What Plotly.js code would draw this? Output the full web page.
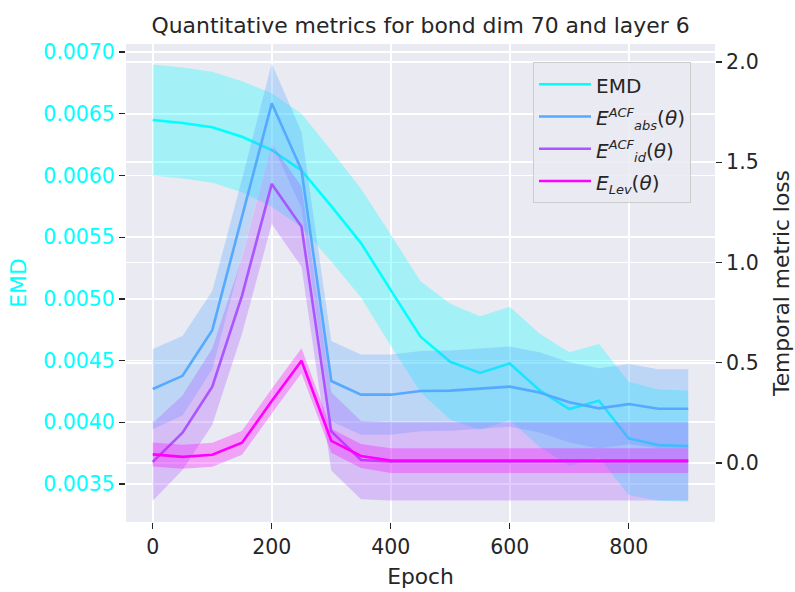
<!DOCTYPE html>
<html>
<head>
<meta charset="utf-8">
<script src="https://cdn.plot.ly/plotly-3.0.1.min.js"></script>
<style>html,body{margin:0;padding:0;background:#fff;}#chart{width:795px;height:592px;}</style>
</head>
<body>
<div id="chart"></div>
<script>
// ---- data ----
const epochs = [0,50,100,150,200,250,300,350,400,450,500,550,600,650,700,750,800,850,900];

const emdMean = [0.006449,0.006425,0.006390,0.006314,0.006206,0.006040,0.005752,0.005452,0.005071,0.004693,0.004490,0.004400,0.004477,0.004260,0.004107,0.004174,0.003869,0.003815,0.003807];
const emdStd  = [0.00045,0.00045,0.00045,0.00045,0.00046,0.00046,0.00045,0.00044,0.00045,0.00045,0.00047,0.00046,0.00046,0.00046,0.00046,0.00046,0.00046,0.00045,0.00045];

const absMean = [0.369,0.435,0.663,1.222,1.794,1.461,0.409,0.341,0.341,0.359,0.361,0.371,0.381,0.352,0.303,0.273,0.294,0.271,0.271];
const absStd  = [0.200,0.198,0.195,0.194,0.200,0.190,0.200,0.200,0.200,0.200,0.200,0.200,0.200,0.200,0.200,0.200,0.200,0.197,0.197];

const idMean  = [0.006,0.151,0.381,0.835,1.392,1.179,0.158,0.015,0.008,0.008,0.008,0.008,0.010,0.008,0.008,0.008,0.008,0.008,0.008];
const idStd   = [0.194,0.186,0.190,0.190,0.200,0.200,0.195,0.195,0.195,0.195,0.195,0.195,0.195,0.195,0.195,0.195,0.195,0.195,0.195];

const levMean = [0.043,0.031,0.041,0.101,0.309,0.510,0.111,0.035,0.012,0.012,0.012,0.012,0.015,0.013,0.012,0.012,0.012,0.012,0.012];
const levStd  = [0.060,0.060,0.060,0.060,0.062,0.062,0.060,0.060,0.062,0.062,0.062,0.062,0.062,0.062,0.062,0.062,0.062,0.062,0.062];

const S = t => '<span style="font-size:13px"><i>' + t + '</i></span>';
const seriesNames = ['EMD',
  '<i>E</i><sup>' + S('ACF') + '</sup><sub>' + S('abs') + '</sub>(<i>θ</i>)',
  '<i>E</i><sup>' + S('ACF') + '</sup><sub>' + S('id') + '</sub>(<i>θ</i>)',
  '<i>E</i><sub>' + S('Lev') + '</sub>(<i>θ</i>)'];
const emdTicks = [0.0035,0.0040,0.0045,0.0050,0.0055,0.0060,0.0065,0.0070];
const lossTicks = [0,0.5,1.0,1.5,2.0];
const xTicks = [0,200,400,600,800];

// ---- styling ----
const colors = ['#00ffff','#55aaff','#aa55ff','#ff00ff'];
const fills  = ['rgba(0,255,255,0.3)','rgba(85,170,255,0.3)','rgba(170,85,255,0.3)','rgba(255,0,255,0.3)'];
const txt = '#262626';
const FONT = 'DejaVu Sans, sans-serif';
const TICK = 20.5, LAB = 21.8;

function band(mean, std, idx, yaxis) {
  const up = mean.map((m,i)=>m+std[i]);
  const lo = mean.map((m,i)=>m-std[i]);
  return [
    {x: epochs, y: up, yaxis: yaxis, mode:'lines', line:{width:0,color:colors[idx]}, showlegend:false, hoverinfo:'skip'},
    {x: epochs, y: lo, yaxis: yaxis, mode:'lines', line:{width:0,color:colors[idx]}, fill:'tonexty', fillcolor: fills[idx], showlegend:false, hoverinfo:'skip'},
    {x: epochs, y: mean, yaxis: yaxis, mode:'lines',
     name: '<span style="font-size:20px">' + seriesNames[idx] + '</span>',
     line:{width:2.6,color:colors[idx]}}
  ];
}

const data = [].concat(
  band(emdMean, emdStd, 0, 'y'),
  band(absMean, absStd, 1, 'y2'),
  band(idMean, idStd, 2, 'y2'),
  band(levMean, levStd, 3, 'y2')
);

const layout = {
  width: 795, height: 592,
  margin: {l:126, r:80, t:44, b:70, pad:0},
  paper_bgcolor: '#ffffff',
  plot_bgcolor: '#eaeaf2',
  font: {family: FONT, size: TICK, color: txt},
  title: {text: 'Quantitative metrics for bond dim 70 and layer 6', font:{size:21.9, color:txt, family:FONT}, x: 0.529, xanchor:'center', y: 0.958, yanchor:'middle'},
  xaxis: {
    range: [-45, 945], tickvals: xTicks, ticktext: xTicks.map(String),
    showgrid: true, gridcolor: '#ffffff', gridwidth: 1.6, zeroline: false, showline: false,
    ticks: 'outside', ticklen: 6, tickwidth: 1.3, tickcolor: txt,
    tickfont: {size: TICK, color: txt},
    title: {text: 'Epoch', font: {size: LAB, color: txt}, standoff: 11}
  },
  yaxis: {
    range: [0.003192, 0.007065], tickvals: emdTicks, ticktext: emdTicks.map(v=>v.toFixed(4)),
    showgrid: true, gridcolor: '#ffffff', gridwidth: 1.6, zeroline: false, showline: false,
    ticks: 'outside', ticklen: 6, tickwidth: 1.3, tickcolor: txt,
    tickfont: {size: TICK, color: '#00ffff'},
    title: {text: 'EMD', font: {size: LAB, color: '#00ffff'}, standoff: 10}
  },
  yaxis2: {
    overlaying: 'y', side: 'right', anchor: 'x',
    range: [-0.294, 2.0898], tickvals: lossTicks, ticktext: lossTicks.map(v=>v.toFixed(1)),
    showgrid: true, gridcolor: '#ffffff', gridwidth: 1.6, zeroline: false, showline: false,
    ticks: 'outside', ticklen: 6, tickwidth: 1.3, tickcolor: txt,
    tickfont: {size: TICK, color: txt},
    title: {text: 'Temporal metric loss', font: {size: LAB, color: txt}, standoff: 16}
  },
  legend: {
    x: 0.691, y: 0.962, xanchor: 'left', yanchor: 'top',
    bgcolor: 'rgba(234,234,242,0.85)', bordercolor: '#cccccc', borderwidth: 1,
    font: {size: 22.5, color: txt}, tracegroupgap: 0, traceorder: 'normal', itemwidth: 52
  },
  showlegend: true
};

Plotly.newPlot('chart', data, layout, {displayModeBar: false, staticPlot: true});
</script>
</body>
</html>
